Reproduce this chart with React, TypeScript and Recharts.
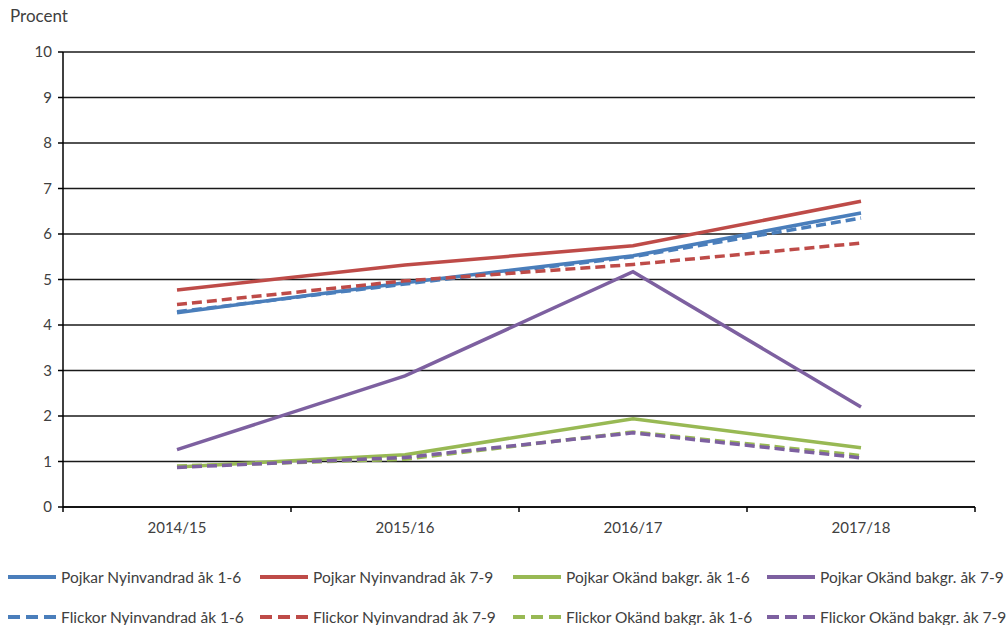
import { LineChart, Line, XAxis, YAxis, CartesianGrid } from "recharts";

const categories = ["2014/15", "2015/16", "2016/17", "2017/18"];

const pojkarNyinvandrad16 = [4.27, 4.93, 5.52, 6.46];
const pojkarNyinvandrad79 = [4.77, 5.32, 5.74, 6.72];
const pojkarOkand16 = [0.88, 1.15, 1.94, 1.3];
const pojkarOkand79 = [1.26, 2.88, 5.17, 2.2];
const flickorNyinvandrad16 = [4.29, 4.9, 5.5, 6.35];
const flickorNyinvandrad79 = [4.45, 4.97, 5.33, 5.8];
const flickorOkand16 = [0.9, 1.05, 1.65, 1.13];
const flickorOkand79 = [0.87, 1.09, 1.63, 1.08];

const yTicks = [0, 1, 2, 3, 4, 5, 6, 7, 8, 9, 10];

const BLUE = "#4A7EBB";
const RED = "#BE4B48";
const GREEN = "#98B954";
const PURPLE = "#7D60A0";
const TEXT = "#404040";
const FONT = "Lato, 'Open Sans', sans-serif";

const series = [
  { key: "pn16", name: "Pojkar Nyinvandrad åk 1-6", values: pojkarNyinvandrad16, color: BLUE, dashed: false },
  { key: "pn79", name: "Pojkar Nyinvandrad åk 7-9", values: pojkarNyinvandrad79, color: RED, dashed: false },
  { key: "po16", name: "Pojkar Okänd bakgr. åk 1-6", values: pojkarOkand16, color: GREEN, dashed: false },
  { key: "po79", name: "Pojkar Okänd bakgr. åk 7-9", values: pojkarOkand79, color: PURPLE, dashed: false },
  { key: "fn16", name: "Flickor Nyinvandrad åk 1-6", values: flickorNyinvandrad16, color: BLUE, dashed: true },
  { key: "fn79", name: "Flickor Nyinvandrad åk 7-9", values: flickorNyinvandrad79, color: RED, dashed: true },
  { key: "fo16", name: "Flickor Okänd bakgr. åk 1-6", values: flickorOkand16, color: GREEN, dashed: true },
  { key: "fo79", name: "Flickor Okänd bakgr. åk 7-9", values: flickorOkand79, color: PURPLE, dashed: true },
];

const data = categories.map((c, i) => {
  const row: Record<string, number | string> = { x: i + 0.5, label: c };
  series.forEach((s) => {
    row[s.key] = s.values[i];
  });
  return row;
});

// category labels sit between boundary ticks, like Excel
const xTicks = [0, 0.5, 1, 1.5, 2, 2.5, 3, 3.5, 4];

function XTick(props: any) {
  const { x, y, payload } = props;
  const v = payload.value;
  if (Number.isInteger(v)) {
    return <line x1={x} x2={x} y1={y} y2={y + 5} stroke="#000" strokeWidth={1.5} />;
  }
  return (
    <text x={x} y={y + 26} textAnchor="middle" fill={TEXT} fontSize={15} fontFamily={FONT}>
      {categories[Math.floor(v)]}
    </text>
  );
}

const legendCols = [8, 260, 513, 767];
const legendRows = [577, 617];

export default function App() {
  return (
    <div style={{ position: "absolute", left: 0, top: 0, width: 1007, height: 625, background: "#fff", fontFamily: FONT }}>
      <div style={{ position: "absolute", left: 10, top: 5, fontSize: 17, color: TEXT }}>Procent</div>
      <LineChart width={1007} height={545} data={data} margin={{ top: 52, right: 32, left: 0, bottom: 0 }}>
        <CartesianGrid horizontal vertical={false} stroke="#1a1a1a" strokeWidth={1.5} />
        <XAxis
          type="number"
          dataKey="x"
          domain={[0, 4]}
          ticks={xTicks}
          interval={0}
          tickLine={false}
          tickSize={0}
          tickMargin={0}
          tick={<XTick />}
          height={38}
          axisLine={{ stroke: "#000", strokeWidth: 1.5 }}
        />
        <YAxis
          domain={[0, 10]}
          ticks={yTicks}
          interval={0}
          width={63}
          tickSize={5}
          tickLine={{ stroke: "#000", strokeWidth: 1.5 }}
          axisLine={{ stroke: "#000", strokeWidth: 1.5 }}
          tick={{ fill: TEXT, fontSize: 15, fontFamily: FONT }}
          tickMargin={6}
        />
        {series.map((s) => (
          <Line
            key={s.key}
            dataKey={s.key}
            name={s.name}
            stroke={s.color}
            strokeWidth={3.5}
            strokeDasharray={s.dashed ? "10 5" : undefined}
            dot={false}
            activeDot={false}
            isAnimationActive={false}
            type="linear"
          />
        ))}
      </LineChart>
      {series.map((s, i) => {
        const left = legendCols[i % 4];
        const top = legendRows[Math.floor(i / 4)];
        return (
          <div
            key={s.key}
            style={{ position: "absolute", left, top: top - 10, height: 20, display: "flex", alignItems: "center", whiteSpace: "nowrap" }}
          >
            <svg width={48} height={6} style={{ marginRight: 5 }}>
              <line x1={0} x2={48} y1={3} y2={3} stroke={s.color} strokeWidth={4} strokeDasharray={s.dashed ? "12 6" : undefined} />
            </svg>
            <span style={{ fontSize: 15.5, color: TEXT }}>{s.name}</span>
          </div>
        );
      })}
    </div>
  );
}
